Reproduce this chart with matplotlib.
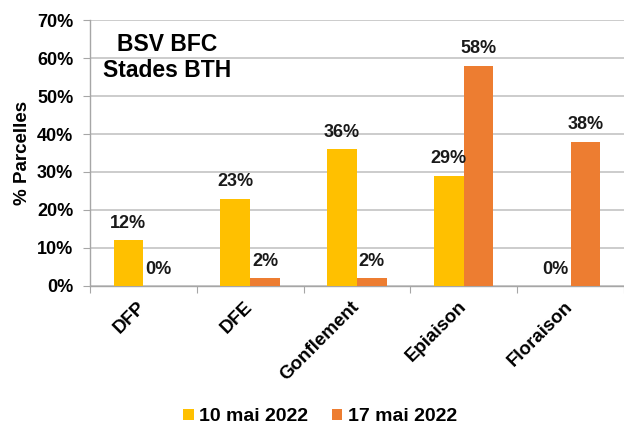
import matplotlib
matplotlib.use("Agg")
import matplotlib.pyplot as plt
import numpy as np
from matplotlib.ticker import PercentFormatter

plt.rcParams['font.family'] = ['Liberation Sans', 'DejaVu Sans']
plt.rcParams['font.weight'] = 'bold'

# données
stades = ["DFP", "DFE", "Gonflement", "Epiaison", "Floraison"]
mai_10 = [12, 23, 36, 29, 0]
mai_17 = [0, 2, 2, 58, 38]
series = ["10 mai 2022", "17 mai 2022"]
couleurs = ["#FFC000", "#ED7D31"]

fig = plt.figure(figsize=(6.24, 4.28), dpi=100)
ax = fig.add_axes([0.144, 0.332, 0.856, 0.621])

x = np.arange(len(stades))
w = 0.278
b1 = ax.bar(x - w / 2, mai_10, w, color=couleurs[0], label=series[0], zorder=3)
b2 = ax.bar(x + w / 2, mai_17, w, color=couleurs[1], label=series[1], zorder=3)

for bars, vals in ((b1, mai_10), (b2, mai_17)):
    for r, v in zip(bars, vals):
        ax.annotate("%d%%" % v, (r.get_x() + r.get_width() / 2, v),
                    xytext=(0, 6), textcoords="offset points",
                    ha="center", va="bottom", fontsize=13, fontweight="bold",
                    color="#1a1a1a", zorder=4)

ax.set_ylim(0, 70)
ax.set_yticks(range(0, 71, 10))
ax.yaxis.set_major_formatter(PercentFormatter(decimals=0))
ax.set_xlim(-0.5, 4.44)
ax.set_xticks(np.arange(-0.5, 5, 1.0))
ax.set_xticklabels([])
ax.set_xticks(x, minor=True)
ax.set_xticklabels(stades, minor=True, rotation=45, ha="right", va="center",
                   rotation_mode="anchor", fontsize=13.5, fontweight="bold")
ax.tick_params(axis="x", which="minor", length=0, pad=13)
ax.tick_params(axis="x", which="major", length=5, color="#a6a6a6")
ax.tick_params(axis="y", length=5, color="#a6a6a6", labelsize=13, pad=7)
for lab in ax.get_yticklabels():
    lab.set_fontweight("bold")

ax.grid(axis="y", color="#cccccc", linewidth=1.4, zorder=0)
for s in ("top", "right"):
    ax.spines[s].set_visible(False)
for s in ("left", "bottom"):
    ax.spines[s].set_color("#a6a6a6")
    ax.spines[s].set_linewidth(1.0)

ax.set_ylabel("% Parcelles", fontsize=13.5, fontweight="bold", labelpad=4)

ax.text(0.145, 0.859, "BSV BFC\nStades BTH", transform=ax.transAxes,
        ha="center", va="center", fontsize=16.5, fontweight="bold",
        linespacing=1.2)

fig.legend(handles=[b1, b2], labels=series, loc="center",
           bbox_to_anchor=(0.513, 0.026), ncol=2, frameon=False,
           fontsize=14, handlelength=0.55, handleheight=0.55,
           handletextpad=0.3, columnspacing=1.2)

fig.savefig("out.png", dpi=100)
